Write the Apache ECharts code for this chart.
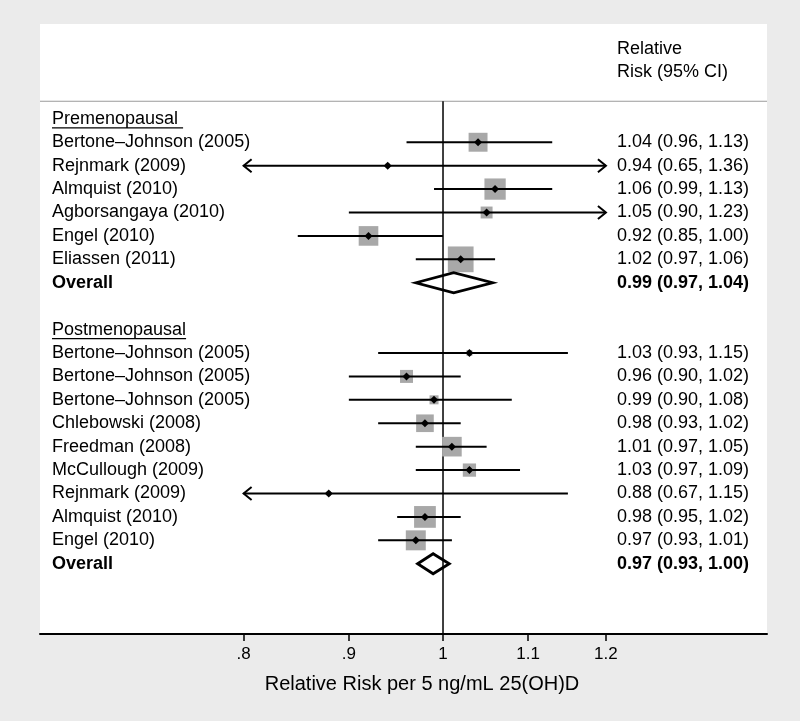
<!DOCTYPE html>
<html><head><meta charset="utf-8">
<script src="https://cdn.jsdelivr.net/npm/echarts@6/dist/echarts.min.js"></script>
<style>html,body{margin:0;padding:0;background:#ebebeb;} #c{width:800px;height:721px;}</style>
</head><body><div id="c"></div><script>
// ---- data ----
const preStudies = ['Bertone\u2013Johnson (2005)','Rejnmark (2009)','Almquist (2010)','Agborsangaya (2010)','Engel (2010)','Eliassen (2011)'];
const preRR   = [1.04, 0.94, 1.06, 1.05, 0.92, 1.02];
const preLo   = [0.96, 0.65, 0.99, 0.90, 0.85, 0.97];
const preHi   = [1.13, 1.36, 1.13, 1.23, 1.00, 1.06];
const preWeight = [53, 3, 67, 21, 57, 98];
const preOverallText = [0.99, 0.97, 1.04];
const preOverallDiamond = [1.012, 0.97, 1.057];

const postStudies = ['Bertone\u2013Johnson (2005)','Bertone\u2013Johnson (2005)','Bertone\u2013Johnson (2005)','Chlebowski (2008)','Freedman (2008)','McCullough (2009)','Rejnmark (2009)','Almquist (2010)','Engel (2010)'];
const postRR  = [1.03, 0.96, 0.99, 0.98, 1.01, 1.03, 0.88, 0.98, 0.97];
const postLo  = [0.93, 0.90, 0.90, 0.93, 0.97, 0.97, 0.67, 0.95, 0.93];
const postHi  = [1.15, 1.02, 1.08, 1.02, 1.05, 1.09, 1.15, 1.02, 1.01];
const postWeight = [5, 25, 12, 46, 57, 26, 3, 70, 59];
const postOverallText = [0.97, 0.93, 1.00];
const postOverallDiamond = [0.989, 0.972, 1.007];

const groupNames = ['Premenopausal ', 'Postmenopausal'];
const overallLabel = 'Overall';
const headerLines = ['Relative', 'Risk (95% CI)'];
const tickValues = [0.8, 0.9, 1, 1.1, 1.2];
const tickLabels = ['.8', '.9', '1', '1.1', '1.2'];
const axisRange = [0.637, 1.437];
const xTitle = 'Relative Risk per 5 ng/mL 25(OH)D';

// ---- build rows ----
const FONT = '"Liberation Sans", Arial, Helvetica, sans-serif';
const fmt = (e, l, h) => e.toFixed(2) + ' (' + l.toFixed(2) + ', ' + h.toFixed(2) + ')';
const ln = Math.log;
const textRows = [];   // {row, left, right, bold, underline}
const studyData = [];
const diamondData = [];
let r = 0;
function addGroup(gname, names, rr, lo, hi, w, ovText, ovDia) {
  textRows.push({row: r, left: gname, underline: true});
  r++;
  for (let i = 0; i < names.length; i++) {
    textRows.push({row: r, left: names[i], right: fmt(rr[i], lo[i], hi[i])});
    studyData.push([r, ln(rr[i]), ln(lo[i]), ln(hi[i]), w[i]]);
    r++;
  }
  textRows.push({row: r, left: overallLabel, right: fmt(ovText[0], ovText[1], ovText[2]), bold: true});
  diamondData.push([r, ln(ovDia[0]), ln(ovDia[1]), ln(ovDia[2])]);
  r++;
}
addGroup(groupNames[0], preStudies, preRR, preLo, preHi, preWeight, preOverallText, preOverallDiamond);
r++; // blank row
addGroup(groupNames[1], postStudies, postRR, postLo, postHi, postWeight, postOverallText, postOverallDiamond);
textRows.push({row: -3, right: headerLines[0]});
textRows.push({row: -2, right: headerLines[1]});

const HEADER_ROW = -0.75;
const Y_MIN = -4.05, Y_MAX = 22;
const clipMin = ln(tickValues[0]), clipMax = ln(tickValues[tickValues.length - 1]);

const measureCtx = document.createElement('canvas').getContext('2d');
function textWidth(t, size, weight) {
  measureCtx.font = (weight || 'normal') + ' ' + size + 'px ' + FONT;
  return measureCtx.measureText(t).width;
}

const chart = echarts.init(document.getElementById('c'), null, {renderer: 'canvas'});
const option = {
  backgroundColor: '#ebebeb',
  animation: false,
  grid: {left: 40, right: 33, top: 24, bottom: 87, show: true, backgroundColor: '#ffffff', borderWidth: 0},
  xAxis: {
    type: 'value',
    position: 'bottom',
    min: ln(axisRange[0]), max: ln(axisRange[1]),
    axisLine: {onZero: false, lineStyle: {color: '#000', width: 2}},
    axisTick: {show: true, customValues: tickValues.map(ln), length: 7, lineStyle: {color: '#000', width: 1.5}},
    axisLabel: {
      customValues: tickValues.map(ln),
      margin: 12, fontSize: 17, color: '#000', fontFamily: FONT,
      formatter: function (v) {
        for (let i = 0; i < tickValues.length; i++) if (Math.abs(ln(tickValues[i]) - v) < 1e-6) return tickLabels[i];
        return '';
      }
    },
    splitLine: {show: false},
    name: xTitle, nameLocation: 'middle', nameGap: 40,
    nameTextStyle: {fontSize: 20, color: '#000', fontFamily: FONT, padding: [0, 0, 0, 37]}
  },
  yAxis: {type: 'value', inverse: true, min: Y_MIN, max: Y_MAX, show: false, splitLine: {show: false}},
  series: [
    { // frame lines
      type: 'custom', silent: true, z: 1,
      data: [[0]],
      renderItem: function (params, api) {
        const cs = params.coordSys;
        const yH = api.coord([0, HEADER_ROW])[1];
        const x1 = api.coord([ln(1), 0])[0];
        return {type: 'group', children: [
          {type: 'line', shape: {x1: cs.x, y1: yH, x2: cs.x + cs.width, y2: yH}, style: {stroke: '#9a9a9a', lineWidth: 1.2}},
          {type: 'line', shape: {x1: x1, y1: yH, x2: x1, y2: cs.y + cs.height}, style: {stroke: '#000', lineWidth: 1.5}}
        ]};
      }
    },
    { // studies
      type: 'custom', silent: true, z: 3,
      data: studyData,
      renderItem: function (params, api) {
        const row = api.value(0), est = api.value(1), lo = api.value(2), hi = api.value(3), w = api.value(4);
        const y = api.coord([0, row])[1];
        const xe = api.coord([est, row])[0];
        const xl = api.coord([Math.max(lo, clipMin), row])[0];
        const xh = api.coord([Math.min(hi, clipMax), row])[0];
        const side = 26 * Math.sqrt(w / 100);
        const ch = [
          {type: 'rect', shape: {x: xe - side / 2, y: y - side / 2, width: side, height: side}, style: {fill: '#a8a8a8'}},
          {type: 'line', shape: {x1: xl, y1: y, x2: xh, y2: y}, style: {stroke: '#000', lineWidth: 2}}
        ];
        if (lo < clipMin) ch.push({type: 'polyline', shape: {points: [[xl + 8, y - 6.5], [xl, y], [xl + 8, y + 6.5]]}, style: {stroke: '#000', lineWidth: 2, fill: null}});
        if (hi > clipMax) ch.push({type: 'polyline', shape: {points: [[xh - 8, y - 6.5], [xh, y], [xh - 8, y + 6.5]]}, style: {stroke: '#000', lineWidth: 2, fill: null}});
        ch.push({type: 'polygon', shape: {points: [[xe - 4, y], [xe, y - 4], [xe + 4, y], [xe, y + 4]]}, style: {fill: '#000'}});
        return {type: 'group', children: ch};
      }
    },
    { // overall diamonds
      type: 'custom', silent: true, z: 3,
      data: diamondData,
      renderItem: function (params, api) {
        const row = api.value(0);
        const y = api.coord([0, row])[1];
        const xe = api.coord([api.value(1), row])[0];
        const xl = api.coord([api.value(2), row])[0];
        const xh = api.coord([api.value(3), row])[0];
        return {type: 'polygon', shape: {points: [[xl, y], [xe, y - 10], [xh, y], [xe, y + 10]]},
          style: {fill: null, stroke: '#000', lineWidth: 2.8, lineJoin: 'miter'}};
      }
    },
    { // text columns
      type: 'custom', silent: true, z: 4,
      data: textRows.map(t => [t.row]),
      renderItem: function (params, api) {
        const t = textRows[params.dataIndex];
        const cs = params.coordSys;
        const y = api.coord([0, t.row])[1];
        const ch = [];
        const fw = t.bold ? 'bold' : 'normal';
        if (t.left) {
          ch.push({type: 'text', style: {text: t.left, x: cs.x + 12, y: y, fontSize: 18, fontFamily: FONT, fontWeight: fw, fill: '#000', align: 'left', verticalAlign: 'middle'}});
          if (t.underline) {
            const w = textWidth(t.left, 18);
            ch.push({type: 'line', shape: {x1: cs.x + 12, y1: y + 9, x2: cs.x + 12 + w, y2: y + 9}, style: {stroke: '#000', lineWidth: 1.3}});
          }
        }
        if (t.right) {
          ch.push({type: 'text', style: {text: t.right, x: cs.x + cs.width - 150, y: y, fontSize: 18, fontFamily: FONT, fontWeight: fw, fill: '#000', align: 'left', verticalAlign: 'middle'}});
        }
        return {type: 'group', children: ch};
      }
    }
  ]
};
chart.setOption(option);
</script></body></html>
